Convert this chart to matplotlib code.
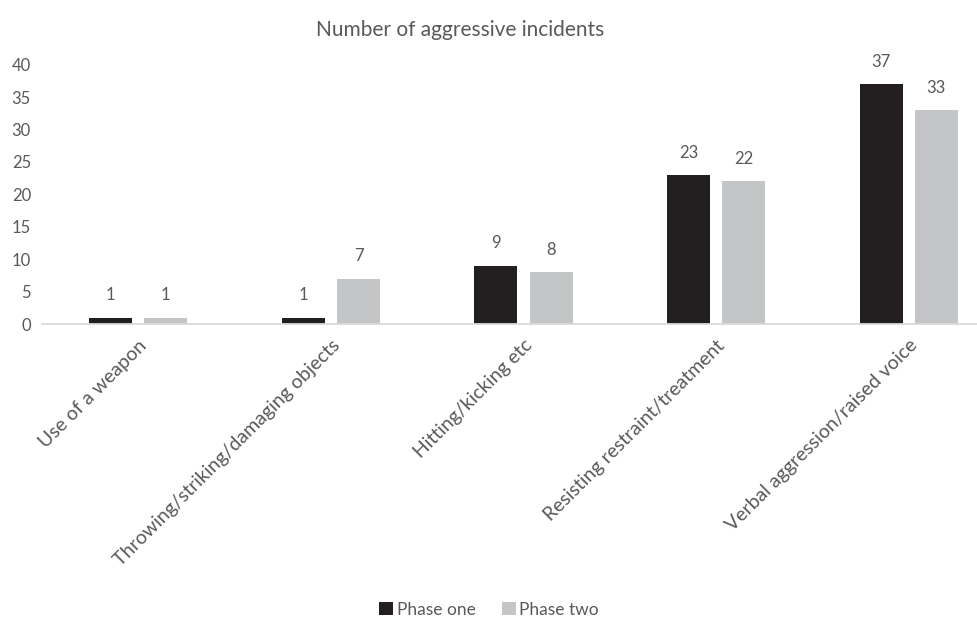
import numpy as np
import matplotlib
matplotlib.use("Agg")
import matplotlib.pyplot as plt

plt.rcParams["font.family"] = ["Lato", "DejaVu Sans"]

categories = [
    "Use of a weapon",
    "Throwing/striking/damaging objects",
    "Hitting/kicking etc",
    "Resisting restraint/treatment",
    "Verbal aggression/raised voice",
]
phase_one = [1, 1, 9, 23, 37]
phase_two = [1, 7, 8, 22, 33]
series_names = ["Phase one", "Phase two"]
yticks = [0, 5, 10, 15, 20, 25, 30, 35, 40]

text_color = "#595959"
dark = "#231f20"
light = "#c4c5c7"

fig = plt.figure(figsize=(9.78, 6.21), dpi=100)
ax = fig.add_axes([0.043, 0.478, 0.957, 0.418])

x = np.arange(len(categories))
w = 0.223
off = 0.143
b1 = ax.bar(x - off, phase_one, w, color=dark, label=series_names[0])
b2 = ax.bar(x + off, phase_two, w, color=light, label=series_names[1])

for bars, vals in ((b1, phase_one), (b2, phase_two)):
    for bar, v in zip(bars, vals):
        ax.text(bar.get_x() + bar.get_width() / 2, v + 2.2, str(v),
                ha="center", va="bottom", fontsize=12, color=text_color)

ax.set_xlim(-0.5, 4.36)
ax.set_ylim(0, 40)
ax.set_yticks(yticks)
ax.set_xticks(x)
ax.set_xticklabels(categories, rotation=45, ha="right", rotation_mode="anchor",
                   fontsize=14, color=text_color)
ax.tick_params(axis="y", length=0, labelsize=12, labelcolor=text_color, pad=8)
ax.tick_params(axis="x", length=0, pad=9)
for s in ("top", "right", "left"):
    ax.spines[s].set_visible(False)
ax.spines["bottom"].set_color("#d9d9d9")
ax.spines["bottom"].set_linewidth(1.3)

fig.text(0.47, 0.952, "Number of aggressive incidents", ha="center", va="center",
         fontsize=15, color=text_color)

fig.legend(handles=[b1, b2], labels=series_names, loc="center",
           bbox_to_anchor=(0.5, 0.018), ncol=2, frameon=False, fontsize=12.5,
           labelcolor=text_color, handlelength=0.8, handleheight=0.8,
           handletextpad=0.2, columnspacing=1.5)

fig.savefig("out.png", dpi=100)
